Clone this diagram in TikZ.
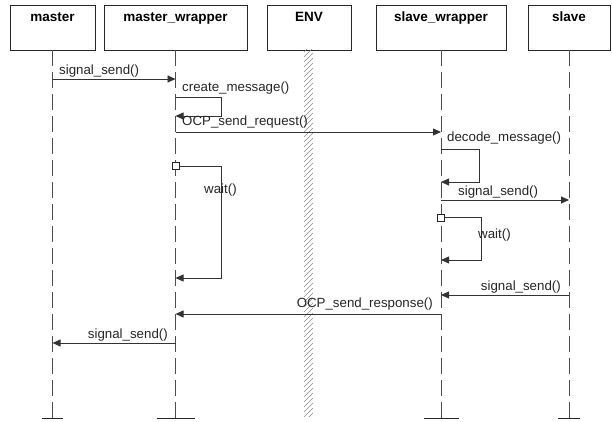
\documentclass[tikz,border=0pt]{standalone}
\usepackage{fontspec}
\setmainfont{Liberation Sans}
\usetikzlibrary{arrows.meta}
\begin{document}
\begin{tikzpicture}[x=1pt,y=-1pt,
  objbox/.style={draw=black!85, line width=0.8pt, inner sep=0pt, fill=white},
  ttl/.style={font=\fontsize{13.5}{15}\selectfont\bfseries, anchor=base, inner sep=0pt},
  lbl/.style={font=\fontsize{13.3}{15}\selectfont, inner sep=0pt, text=black!85},
  life/.style={draw=black!70, line width=0.8pt, dash pattern=on 16pt off 6pt},
  msg/.style={draw=black!80, line width=0.8pt, -{Triangle[length=8pt,width=7pt]}},
  endbar/.style={draw=black!85, line width=0.8pt},
  actsq/.style={draw=black!85, fill=white, line width=0.8pt, minimum size=7pt, inner sep=0pt},
  hatch/.style={draw=black!45, line width=0.45pt}
]
\useasboundingbox[fill=white] (0,0) rectangle (612,422);

% object boxes
\node[objbox, minimum width=85pt, minimum height=45pt] (master) at (52.5,27.5) {};
\node[objbox, minimum width=143pt, minimum height=45pt] (mw) at (175.5,27.5) {};
\node[objbox, minimum width=84pt, minimum height=45pt] (env) at (309,27.5) {};
\node[objbox, minimum width=130pt, minimum height=45pt] (sw) at (441,27.5) {};
\node[objbox, minimum width=82pt, minimum height=45pt] (slave) at (569,27.5) {};

\node[ttl] (tmaster) at (52.5,22) {master};
\node[ttl] (tmw) at (175.5,22) {master\_wrapper};
\node[ttl] (tenv) at (309,22) {ENV};
\node[ttl] (tsw) at (441,22) {slave\_wrapper};
\node[ttl] (tslave) at (569,22) {slave};

% lifeline ends
\coordinate (masterend) at (52.5,418);
\coordinate (mwend) at (175.5,418);
\coordinate (swend) at (441,418);
\coordinate (slaveend) at (569,418);

\draw[life] (master.south) -- (masterend);
\draw[life] (mw.south) -- (mwend);
\draw[life] (sw.south) -- (swend);
\draw[life] (slave.south) -- (slaveend);

\draw[endbar] ([xshift=-10.5pt]masterend) -- ([xshift=10.5pt]masterend);
\draw[endbar] ([xshift=-19pt]mwend) -- ([xshift=19pt]mwend);
\draw[endbar] ([xshift=-17.5pt]swend) -- ([xshift=17.5pt]swend);
\draw[endbar] ([xshift=-11pt]slaveend) -- ([xshift=11pt]slaveend);

% ENV hatched lifeline
\begin{scope}
\clip (303,50) rectangle (315,416);
\foreach \y in {52,57,...,430} \draw[hatch] (304,\y) -- (313,\y-9);
\end{scope}

% 1 signal_send master -> master_wrapper
\coordinate (a1) at (52.5,79); \coordinate (b1) at (175.5,79);
\draw[msg] (a1) -- (b1);
\node[lbl, anchor=base west] (l1) at (59,75) {signal\_send()};

% 2 create_message self loop
\coordinate (a2) at (175.5,97); \coordinate (b2) at (175.5,116);
\draw[msg] (a2) -- ++(45.5,0) |- (b2);
\node[lbl, anchor=base west] (l2) at (182,92) {create\_message()};

% 3 OCP_send_request
\coordinate (a3) at (175.5,132); \coordinate (b3) at (441,132);
\draw[msg] (a3) -- (b3);
\node[lbl, anchor=base west] (l3) at (182,125.5) {OCP\_send\_request()};

% 4 decode_message self loop
\coordinate (a4) at (441,149); \coordinate (b4) at (441,182);
\draw[msg] (a4) -- ++(38,0) |- (b4);
\node[lbl, anchor=base west] (l4) at (447,142) {decode\_message()};

% 5 signal_send slave_wrapper -> slave
\coordinate (a5) at (441,200); \coordinate (b5) at (569,200);
\draw[msg] (a5) -- (b5);
\node[lbl, anchor=base west] (l5) at (458,195) {signal\_send()};

% 7 master_wrapper wait
\node[actsq] (sq1) at (175.5,166) {};
\coordinate (b7) at (175.5,278);
\draw[msg] (sq1.east) -- ++(42,0) |- (b7);
\node[lbl, anchor=base west] (l7) at (204,193) {wait()};

% 6 slave_wrapper wait
\node[actsq] (sq2) at (440.5,217.5) {};
\coordinate (b6) at (441,260);
\draw[msg] (sq2.east) -- ++(36.5,0) |- (b6);
\node[lbl, anchor=base west] (l6) at (478,238) {wait()};

% 8 signal_send slave -> slave_wrapper
\coordinate (a8) at (569,295); \coordinate (b8) at (441,295);
\draw[msg] (a8) -- (b8);
\node[lbl, anchor=base east] (l8) at (561,290) {signal\_send()};

% 9 OCP_send_response
\coordinate (a9) at (441,314); \coordinate (b9) at (175.5,314);
\draw[msg] (a9) -- (b9);
\node[lbl, anchor=base east] (l9) at (433,307) {OCP\_send\_response()};

% 10 signal_send master_wrapper -> master
\coordinate (a10) at (175.5,343); \coordinate (b10) at (52.5,343);
\draw[msg] (a10) -- (b10);
\node[lbl, anchor=base east] (l10) at (168,338) {signal\_send()};
\end{tikzpicture}
\end{document}
